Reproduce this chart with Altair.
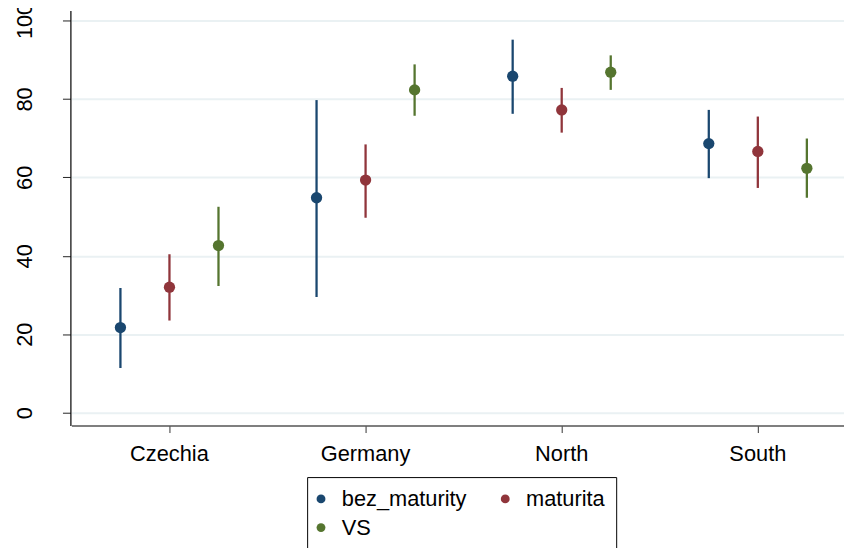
import altair as alt
import pandas as pd

regions = ["Czechia", "Germany", "North", "South"]
groups = ["bez_maturity", "maturita", "VS"]
colors = ["#1a476f", "#90353b", "#55752f"]

est_bez = [21.7, 54.8, 85.8, 68.6]
lo_bez = [11.4, 29.5, 76.2, 59.8]
hi_bez = [31.8, 79.7, 95.1, 77.2]

est_mat = [32.0, 59.3, 77.2, 66.6]
lo_mat = [23.5, 49.7, 71.4, 57.3]
hi_mat = [40.4, 68.4, 82.8, 75.5]

est_vs = [42.6, 82.3, 86.8, 62.3]
lo_vs = [32.3, 75.7, 82.3, 54.8]
hi_vs = [52.5, 88.8, 91.1, 69.9]

y_ticks = [0, 20, 40, 60, 80, 100]

rows = []
for g, est, lo, hi in [("bez_maturity", est_bez, lo_bez, hi_bez),
                       ("maturita", est_mat, lo_mat, hi_mat),
                       ("VS", est_vs, lo_vs, hi_vs)]:
    for r, e, l, h in zip(regions, est, lo, hi):
        rows.append({"region": r, "group": g, "est": e, "lo": l, "hi": h})
df = pd.DataFrame(rows)

FONT = "Liberation Sans"
FS = 22

x_enc = alt.X("region:N",
              scale=alt.Scale(domain=regions, range=[1, 793], paddingInner=0, paddingOuter=0),
              axis=alt.Axis(title=None, labelAngle=0, labelFontSize=FS, labelFont=FONT,
                            labelColor="black", labelPadding=11, tickSize=7, tickColor="#333333",
                            domainColor="#555555", domainWidth=1.5, grid=False))
xoff_enc = alt.XOffset("group:N", scale=alt.Scale(domain=groups, paddingInner=0, paddingOuter=0.5))
y_scale = alt.Scale(domain=[-3.28, 102.52], nice=False, zero=False)

legend = alt.Legend(title=None, orient="none", legendX=239, legendY=471,
                    direction="horizontal", columns=2, columnPadding=34, rowPadding=7,
                    padding=11, strokeColor="black", fillColor="white",
                    labelFontSize=FS, labelFont=FONT, labelColor="black",
                    labelOffset=10, symbolOffset=-8, symbolType="circle", symbolSize=80,
                    symbolStrokeWidth=0, symbolOpacity=1)
color_enc = alt.Color("group:N", scale=alt.Scale(domain=groups, range=colors), legend=legend)

base = alt.Chart(df)

rules = base.mark_rule(strokeWidth=2.3).encode(
    x=x_enc,
    xOffset=xoff_enc,
    y=alt.Y("lo:Q", scale=y_scale,
            axis=alt.Axis(title=None, values=y_ticks, labelAngle=270, labelAlign="center",
                          labelBaseline="bottom", labelPadding=26, labelFontSize=FS,
                          labelFont=FONT, labelColor="black", tickSize=8, tickColor="#222222",
                          domainColor="black", domainWidth=1.2, grid=True,
                          gridColor="#eaf1f3", gridWidth=2)),
    y2="hi:Q",
    color=color_enc,
)

points = base.mark_circle(size=130, opacity=1).encode(
    x=x_enc,
    xOffset=xoff_enc,
    y=alt.Y("est:Q", scale=y_scale),
    color=color_enc,
)

chart = alt.layer(rules, points).properties(
    width=781, height=419,
    autosize=alt.AutoSizeParams(type="none"),
    padding={"left": 63, "top": 0, "right": 0, "bottom": 121},
    background="white",
).configure_view(strokeWidth=0)

chart.save("out.html", embed_options={"renderer": "svg", "actions": False})
